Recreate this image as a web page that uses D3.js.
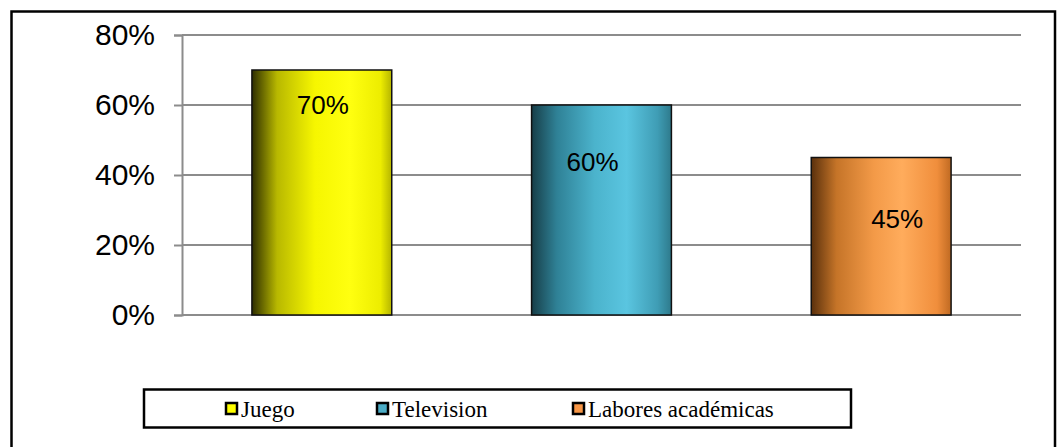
<!DOCTYPE html>
<html>
<head>
<meta charset="utf-8">
<script src="https://cdn.jsdelivr.net/npm/d3@7"></script>
<style>
  body { margin: 0; background: #fff; }
  svg { display: block; }
</style>
</head>
<body>
<div id="chart"></div>
<script>
// data
var categories = ["Juego", "Television", "Labores académicas"];
var values = [0.70, 0.60, 0.45];
var yTicks = [0, 0.2, 0.4, 0.6, 0.8];

// label nudges (px, relative to bar centre / bar top)
var labelDx = [1, -9, 16];
var labelDy = [35, 57, 61];

var svgWidth = 1057;
var svgHeight = 447;

var margin = { top: 35, right: 36, bottom: 132, left: 182 };
var width = svgWidth - margin.left - margin.right;
var height = svgHeight - margin.top - margin.bottom;

var svg = d3.select("#chart")
  .append("svg")
  .attr("width", svgWidth)
  .attr("height", svgHeight);

// gradients for the bars
var gradStops = [
  [["0%", "#2e2e00"], ["18%", "#b8b800"], ["45%", "#f6f600"], ["70%", "#ffff10"], ["92%", "#eded00"], ["100%", "#b5b500"]],
  [["0%", "#173e48"], ["18%", "#2f8196"], ["45%", "#4bb3cc"], ["68%", "#5ac5e0"], ["90%", "#3f9db5"], ["100%", "#2e7a8c"]],
  [["0%", "#5a300c"], ["18%", "#c57428"], ["45%", "#f39a48"], ["65%", "#ffac5c"], ["90%", "#f08e3c"], ["100%", "#c06a22"]]
];
var legendColors = ["#ffff00", "#4bacc6", "#f79646"];

var defs = svg.append("defs");
gradStops.forEach(function(stops, i) {
  var g = defs.append("linearGradient")
    .attr("id", "grad" + i)
    .attr("x1", "0%").attr("x2", "100%")
    .attr("y1", "0%").attr("y2", "0%");
  stops.forEach(function(s) {
    g.append("stop").attr("offset", s[0]).attr("stop-color", s[1]);
  });
});

// outer frame
svg.append("rect")
  .attr("x", 11.5)
  .attr("y", 11.5)
  .attr("width", 1043.5)
  .attr("height", 450)
  .attr("fill", "none")
  .attr("stroke", "#000")
  .attr("stroke-width", 2.5);

var chartGroup = svg.append("g")
  .attr("transform", `translate(${margin.left}, ${margin.top})`);

var xScale = d3.scaleBand()
  .domain(categories)
  .range([0, width])
  .paddingInner(0.5)
  .paddingOuter(0.25);

var yScale = d3.scaleLinear()
  .domain([0, 0.8])
  .range([height, 0]);

// gridlines
chartGroup.append("g")
  .selectAll("line")
  .data(yTicks)
  .enter()
  .append("line")
  .attr("x1", 0)
  .attr("x2", width)
  .attr("y1", d => yScale(d))
  .attr("y2", d => yScale(d))
  .attr("stroke", "#8c8c8c")
  .attr("stroke-width", 2);

// y axis
var leftAxis = d3.axisLeft(yScale)
  .tickValues(yTicks)
  .tickFormat(d3.format(".0%"))
  .tickSize(8)
  .tickPadding(19);

var yAxis = chartGroup.append("g").call(leftAxis);
yAxis.select(".domain").attr("stroke", "#8c8c8c").attr("stroke-width", 2);
yAxis.selectAll(".tick line").attr("stroke", "#8c8c8c").attr("stroke-width", 2);
yAxis.selectAll("text")
  .style("font-family", "'Liberation Sans', Arial, sans-serif")
  .style("font-size", "30px")
  .attr("fill", "#000");

// bars
chartGroup.selectAll(".bar")
  .data(values)
  .enter()
  .append("rect")
  .attr("class", "bar")
  .attr("x", (d, i) => xScale(categories[i]))
  .attr("y", d => yScale(d))
  .attr("width", xScale.bandwidth())
  .attr("height", d => height - yScale(d))
  .attr("fill", (d, i) => `url(#grad${i})`)
  .attr("stroke", "#111")
  .attr("stroke-width", 1.5);

// value labels
chartGroup.selectAll(".valLabel")
  .data(values)
  .enter()
  .append("text")
  .attr("class", "valLabel")
  .attr("x", (d, i) => xScale(categories[i]) + xScale.bandwidth() / 2 + labelDx[i])
  .attr("y", (d, i) => yScale(d) + labelDy[i])
  .attr("text-anchor", "middle")
  .attr("dominant-baseline", "central")
  .style("font-family", "'Liberation Sans', Arial, sans-serif")
  .style("font-size", "26px")
  .attr("fill", "#000")
  .text(d => d3.format(".0%")(d));

// legend
var legend = svg.append("g");
legend.append("rect")
  .attr("x", 144)
  .attr("y", 389.5)
  .attr("width", 707)
  .attr("height", 38)
  .attr("fill", "#fff")
  .attr("stroke", "#000")
  .attr("stroke-width", 2.5);

var legendX = [226, 377, 573];
var items = legend.selectAll(".item")
  .data(categories)
  .enter()
  .append("g")
  .attr("transform", (d, i) => `translate(${legendX[i]}, 0)`);

items.append("rect")
  .attr("x", 0)
  .attr("y", 403)
  .attr("width", 11)
  .attr("height", 11)
  .attr("fill", (d, i) => legendColors[i])
  .attr("stroke", "#000")
  .attr("stroke-width", 2.5);

items.append("text")
  .attr("x", 15)
  .attr("y", 417)
  .style("font-family", "'Liberation Serif', 'Times New Roman', serif")
  .style("font-size", "23px")
  .attr("fill", "#000")
  .text(d => d);
</script>
</body>
</html>
